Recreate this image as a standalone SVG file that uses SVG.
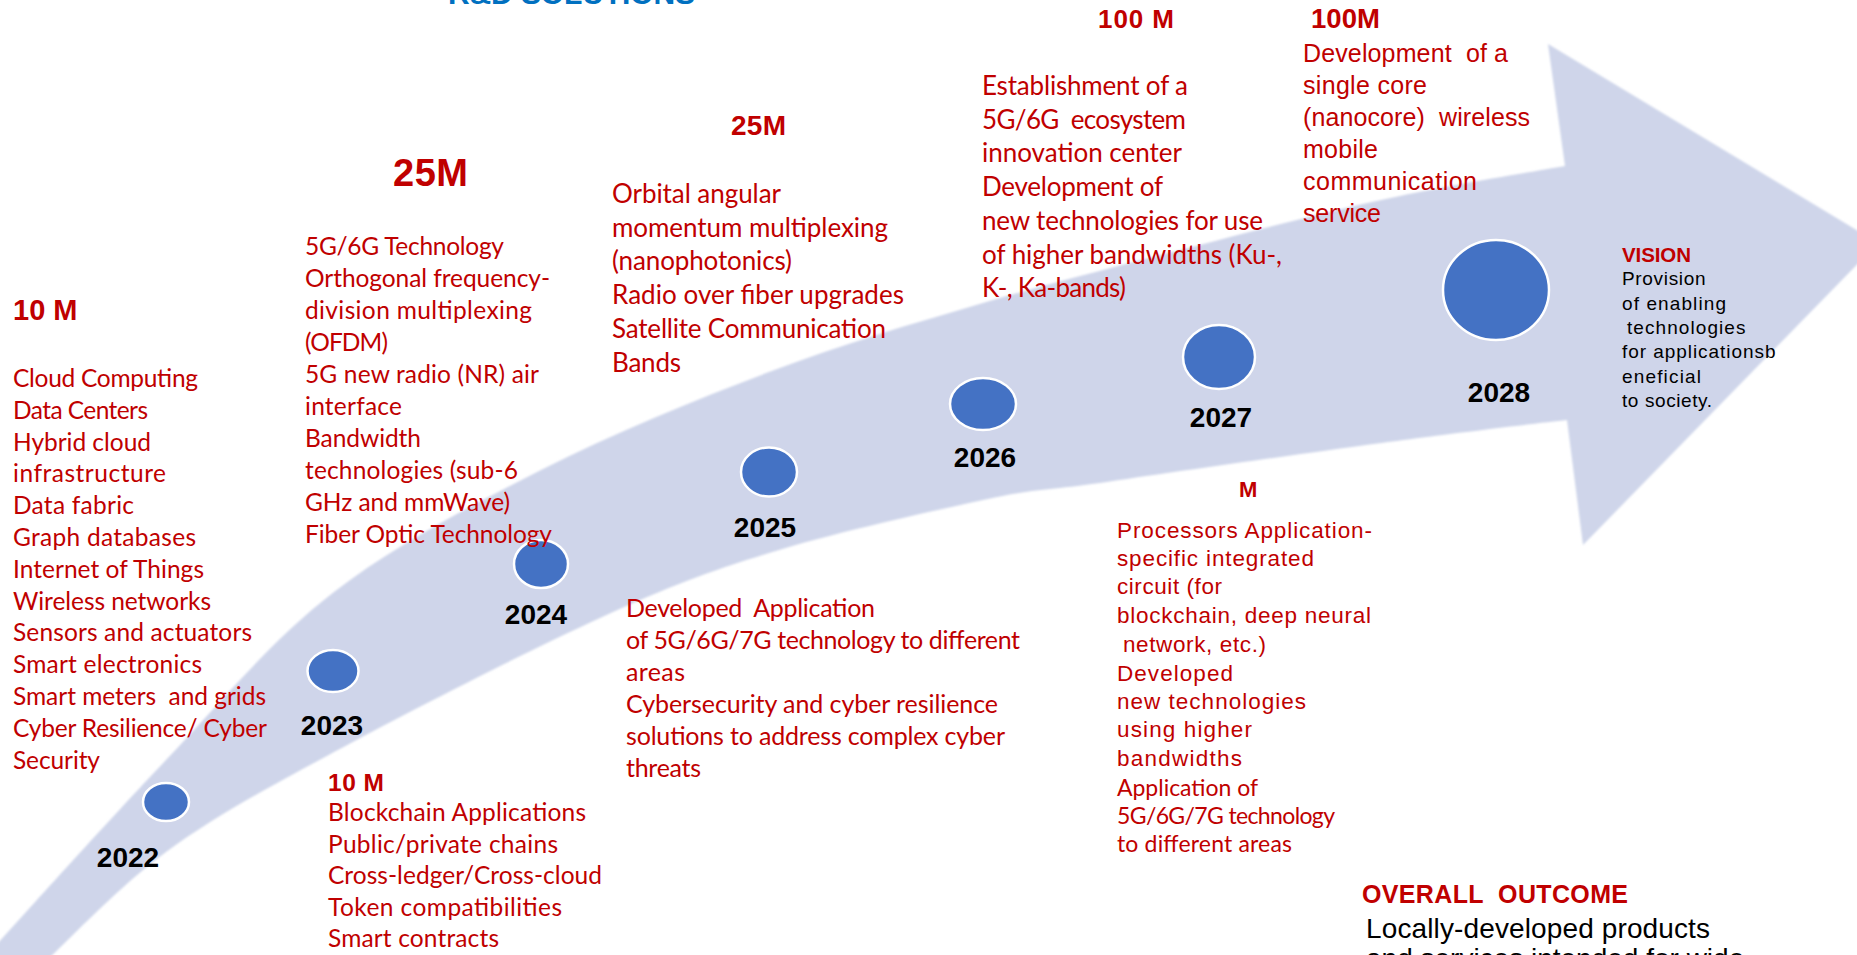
<svg xmlns="http://www.w3.org/2000/svg" width="1857" height="955" viewBox="0 0 1857 955">
<defs>
<style>
text { white-space: pre; }
.cal { font-family: Lato, "Liberation Sans", sans-serif; fill: #C00000; }
.ari { font-family: "Liberation Sans", Arial, sans-serif; fill: #C00000; }
.hd { font-family: "Liberation Sans", Arial, sans-serif; font-weight: bold; fill: #C00000; }
.blk { font-family: "Liberation Sans", Arial, sans-serif; fill: #000000; }
.yr { font-family: "Liberation Sans", Arial, sans-serif; font-weight: bold; fill: #000000; font-size: 28px; text-anchor: middle; }
.dot { fill: #4472C4; stroke: #FFFFFF; stroke-width: 2.5; }
</style>
<filter id="soft" x="-2%" y="-2%" width="104%" height="104%"><feGaussianBlur stdDeviation="1.2"/></filter>
</defs>
<rect width="1857" height="955" fill="#FFFFFF"/>

<g id="timeline-arrow">
<path filter="url(#soft)" fill="#CFD5EA" d="M -10 952 C 19 920 109 820 166 760 C 223 700 271.5 640 334 592 C 396.5 544 468.5 507 541 470 C 613.5 433 695 400 769 372 C 843 344 908 325 983 303 C 1058 281 1149.5 258 1219 240 C 1288.5 222 1342 208 1400 196 C 1458 184 1537.5 171 1565 166 L 1548 44 L 1878 243 L 1583 545 L 1567 420 C 1547.5 422 1489.5 429 1450 434 C 1410.5 439 1388 442 1330 450 C 1271.7 458 1158 474 1100 483 C 1042 491 1038 488 983 500 C 928 512 833 533 769 553 C 705 573 672.5 585 600 618 C 527.5 651 406 713 334 752 C 262 791 214 817 166 852 C 118 887 65 944 45 962 L -10 962 Z"/>
</g>

<g id="title">
<text class="hd" x="448" y="4" font-size="30" style="fill:#0070C0" textLength="247">R&amp;D SOLUTIONS</text>
</g>

<g id="node-2022">
<ellipse class="dot" cx="166" cy="802" rx="23" ry="19"/>
<text class="yr" x="128" y="867">2022</text>
</g>
<g id="node-2023">
<ellipse class="dot" cx="333" cy="671" rx="25.5" ry="21"/>
<text class="yr" x="332" y="735">2023</text>
</g>
<g id="node-2024">
<ellipse class="dot" cx="541" cy="564" rx="27" ry="24"/>
<text class="yr" x="536" y="624">2024</text>
</g>
<g id="node-2025">
<ellipse class="dot" cx="769" cy="472" rx="28" ry="24.5"/>
<text class="yr" x="765" y="537">2025</text>
</g>
<g id="node-2026">
<ellipse class="dot" cx="983" cy="404" rx="33" ry="26"/>
<text class="yr" x="985" y="467">2026</text>
</g>
<g id="node-2027">
<ellipse class="dot" cx="1219" cy="357" rx="36" ry="32"/>
<text class="yr" x="1221" y="427">2027</text>
</g>
<g id="node-2028">
<ellipse class="dot" cx="1496" cy="290" rx="53" ry="50"/>
<text class="yr" x="1499" y="402">2028</text>
</g>

<g id="block-2022" font-size="24.5">
<text class="hd" x="13" y="320" font-size="29">10 M</text>
<text class="cal" x="13" y="387" textLength="185">Cloud Computing</text>
<text class="cal" x="13" y="418.8" textLength="135">Data Centers</text>
<text class="cal" x="13" y="450.6" textLength="138">Hybrid cloud</text>
<text class="cal" x="13" y="482.4" textLength="153">infrastructure</text>
<text class="cal" x="13" y="514.2" textLength="121">Data fabric</text>
<text class="cal" x="13" y="546" textLength="183">Graph databases</text>
<text class="cal" x="13" y="577.8" textLength="191">Internet of Things</text>
<text class="cal" x="13" y="609.6" textLength="198">Wireless networks</text>
<text class="cal" x="13" y="641.4" textLength="239">Sensors and actuators</text>
<text class="cal" x="13" y="673.2" textLength="189">Smart electronics</text>
<text class="cal" x="13" y="705" textLength="253">Smart meters  and grids</text>
<text class="cal" x="13" y="736.8" textLength="254">Cyber Resilience/ Cyber</text>
<text class="cal" x="13" y="768.6" textLength="87">Security</text>
</g>

<g id="block-2024" font-size="24.5">
<text class="hd" x="393" y="186" font-size="38" textLength="75">25M</text>
<text class="cal" x="305" y="255" textLength="199">5G/6G Technology</text>
<text class="cal" x="305" y="287" textLength="245">Orthogonal frequency-</text>
<text class="cal" x="305" y="319" textLength="227">division multiplexing</text>
<text class="cal" x="305" y="351" textLength="83">(OFDM)</text>
<text class="cal" x="305" y="383" textLength="234">5G new radio (NR) air</text>
<text class="cal" x="305" y="415" textLength="97">interface</text>
<text class="cal" x="305" y="447" textLength="116">Bandwidth</text>
<text class="cal" x="305" y="479" textLength="213">technologies (sub-6</text>
<text class="cal" x="305" y="511" textLength="205">GHz and mmWave)</text>
<text class="cal" x="305" y="543" textLength="247">Fiber Optic Technology</text>
</g>

<g id="block-2025-top" font-size="26">
<text class="hd" x="731" y="135" font-size="28" textLength="55">25M</text>
<text class="cal" x="612" y="203" textLength="169">Orbital angular</text>
<text class="cal" x="612" y="236.7" textLength="276">momentum multiplexing</text>
<text class="cal" x="612" y="270.4" textLength="180">(nanophotonics)</text>
<text class="cal" x="612" y="304.1" textLength="292">Radio over fiber upgrades</text>
<text class="cal" x="612" y="337.8" textLength="274">Satellite Communication</text>
<text class="cal" x="612" y="371.5" textLength="69">Bands</text>
</g>

<g id="block-2026-top" font-size="26">
<text class="hd" x="1098" y="28" font-size="26" textLength="76">100 M</text>
<text class="cal" x="982" y="95" textLength="206">Establishment of a</text>
<text class="cal" x="982" y="128.7" textLength="204">5G/6G  ecosystem</text>
<text class="cal" x="982" y="162.4" textLength="200">innovation center</text>
<text class="cal" x="982" y="196.1" textLength="181">Development of</text>
<text class="cal" x="982" y="229.8" textLength="281">new technologies for use</text>
<text class="cal" x="982" y="263.5" textLength="300">of higher bandwidths (Ku-,</text>
<text class="cal" x="982" y="297.2" textLength="144">K-, Ka-bands)</text>
</g>

<g id="block-2027-top" font-size="25">
<text class="hd" x="1311" y="28" font-size="27.5" textLength="69">100M</text>
<text class="ari" x="1303" y="62" textLength="205">Development  of a</text>
<text class="ari" x="1303" y="94" textLength="124">single core</text>
<text class="ari" x="1303" y="126" textLength="227">(nanocore)  wireless</text>
<text class="ari" x="1303" y="158" textLength="75">mobile</text>
<text class="ari" x="1303" y="190" textLength="174">communication</text>
<text class="ari" x="1303" y="222" textLength="78">service</text>
</g>

<g id="block-vision" font-size="19">
<text class="hd" x="1622" y="262" font-size="20.5" textLength="69">VISION</text>
<text class="blk" x="1622" y="285" textLength="83.5">Provision</text>
<text class="blk" x="1622" y="309.5" textLength="104">of enabling</text>
<text class="blk" x="1627" y="334" textLength="118.5">technologies</text>
<text class="blk" x="1622" y="358" textLength="153.5">for applicationsb</text>
<text class="blk" x="1622" y="382.5" textLength="79">eneficial</text>
<text class="blk" x="1622" y="407" textLength="90">to society.</text>
</g>

<g id="block-2025-bottom" font-size="25">
<text class="cal" x="626" y="617" textLength="249">Developed  Application</text>
<text class="cal" x="626" y="649" textLength="394">of 5G/6G/7G technology to different</text>
<text class="cal" x="626" y="681" textLength="59">areas</text>
<text class="cal" x="626" y="713" textLength="372">Cybersecurity and cyber resilience</text>
<text class="cal" x="626" y="745" textLength="379">solutions to address complex cyber</text>
<text class="cal" x="626" y="777" textLength="75">threats</text>
</g>

<g id="block-2023-bottom" font-size="24.5">
<text class="hd" x="328" y="791" font-size="24.5" textLength="56">10 M</text>
<text class="cal" x="328" y="821" textLength="258">Blockchain Applications</text>
<text class="cal" x="328" y="852.5" textLength="230">Public/private chains</text>
<text class="cal" x="328" y="884" textLength="274">Cross-ledger/Cross-cloud</text>
<text class="cal" x="328" y="915.5" textLength="234">Token compatibilities</text>
<text class="cal" x="328" y="947" textLength="171">Smart contracts</text>
</g>

<g id="block-2027-bottom" font-size="22.5">
<text class="hd" x="1239" y="497" font-size="22">M</text>
<text class="ari" x="1117" y="538" textLength="255">Processors Application-</text>
<text class="ari" x="1117" y="566" textLength="197">specific integrated</text>
<text class="ari" x="1117" y="594" textLength="105">circuit (for</text>
<text class="ari" x="1117" y="623" textLength="254">blockchain, deep neural</text>
<text class="ari" x="1123" y="652" textLength="143">network, etc.)</text>
<text class="ari" x="1117" y="681" textLength="116">Developed</text>
<text class="ari" x="1117" y="709" textLength="189">new technologies</text>
<text class="ari" x="1117" y="737" textLength="135">using higher</text>
<text class="ari" x="1117" y="766" textLength="125">bandwidths</text>
<text class="cal" x="1117" y="796" font-size="23" textLength="141">Application of</text>
<text class="cal" x="1117" y="824" font-size="23" textLength="218">5G/6G/7G technology</text>
<text class="cal" x="1117" y="852" font-size="23" textLength="175">to different areas</text>
</g>

<g id="block-outcome">
<text class="hd" x="1362" y="903" font-size="25" textLength="266">OVERALL  OUTCOME</text>
<text class="blk" x="1366" y="938" font-size="28" textLength="344">Locally-developed products</text>
<text class="blk" x="1366" y="968" font-size="28">and services intended for wide</text>
</g>
</svg>
